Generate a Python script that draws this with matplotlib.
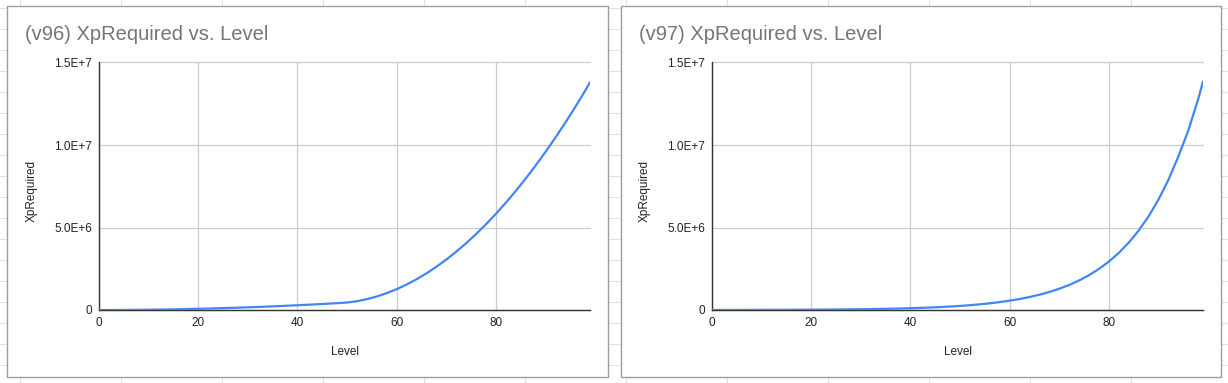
"""
Two Google-Sheets style line charts: XpRequired vs. Level for v96 and v97
"""

import matplotlib
import matplotlib.pyplot as plt
from matplotlib.patches import Rectangle
matplotlib.use("AGG")

plt.rcParams['font.family'] = ['Liberation Sans', 'DejaVu Sans']

# Levels (every 2nd level, plus the last one)
levels = list(range(0, 100, 2)) + [99]

# XP required per level
xp_v96 = [0, 720, 2900, 6500, 11500, 18000, 26000, 35000, 46000, 58000,
          72000, 87000, 104000, 122000, 141000, 162000, 184000, 208000, 233000, 260000,
          288000, 318000, 348000, 381000, 415000, 450000, 534000, 656000, 818000, 1020000,
          1260000, 1540000, 1858000, 2216000, 2614000, 3050000, 3526000, 4040000, 4594000, 5188000,
          5820000, 6492000, 7202000, 7952000, 8742000, 9570000, 10438000, 11344000, 12290000, 13276000,
          13800000]
xp_v97 = [3000, 4000, 5000, 6000, 7500, 9000, 11000, 13000, 15000, 18000,
          21000, 25000, 29000, 34000, 40000, 48000, 56000, 66000, 78000, 92000,
          109000, 128000, 151000, 178000, 210000, 248000, 292000, 344000, 406000, 479000,
          565000, 666000, 785000, 925000, 1091000, 1286000, 1516000, 1788000, 2108000, 2485000,
          2930000, 3455000, 4070000, 4800000, 5660000, 6680000, 7870000, 9280000, 10850000, 12750000,
          13850000]

titles = ['(v96) XpRequired vs. Level', '(v97) XpRequired vs. Level']
x_ticks = [0, 20, 40, 60, 80]
y_ticks = [0, 5e6, 1e7, 1.5e7]
y_tick_labels = ['0', '5.0E+6', '1.0E+7', '1.5E+7']

W, H = 1228, 383
fig = plt.figure(figsize=(W / 100, H / 100), dpi=100)

# Background: spreadsheet cell grid, drawn in pixel coordinates
bg = fig.add_axes([0, 0, 1, 1], zorder=0)
bg.set_xlim(0, W)
bg.set_ylim(H, 0)
bg.axis('off')
for x in range(19, W, 101):
    bg.plot([x + 0.5, x + 0.5], [0, H], color='#e2e2e2', lw=0.8, zorder=1)
for y in range(7, H, 21):
    bg.plot([0, W], [y + 0.5, y + 0.5], color='#e2e2e2', lw=0.8, zorder=1)

# Chart boxes (left px, right px)
boxes = [(6, 607), (620, 1220)]
plot_left = [99, 712]
series = [xp_v96, xp_v97]

for (bx0, bx1), px0, title, xp in zip(boxes, plot_left, titles, series):
    bg.add_patch(Rectangle((bx0 + 0.5, 5.5), bx1 - bx0, 371, facecolor='white',
                           edgecolor='#9e9e9e', lw=1.0, zorder=3))
    bg.text(bx0 + 19, 35, title, fontsize=14.5, color='#757575', va='center',
            ha='left', zorder=4)

    ax = fig.add_axes([px0 / W, (H - 310) / H, 491 / W, 247.5 / H], zorder=2)
    ax.patch.set_alpha(0)
    ax.plot(levels, xp, color='#4285F4', lw=1.6, solid_capstyle='round', zorder=3)
    ax.set_xlim(0, 99)
    ax.set_ylim(0, 1.5e7)
    ax.set_xticks(x_ticks)
    ax.set_yticks(y_ticks)
    ax.set_yticklabels(y_tick_labels)
    ax.tick_params(length=0, labelsize=8.5, labelcolor='#222222', pad=5)
    ax.grid(True, color='#cccccc', lw=0.9)
    for gl in ax.get_ygridlines() + ax.get_xgridlines():
        gl.set_clip_on(False)
    ax.set_axisbelow(True)
    for side in ['top', 'right']:
        ax.spines[side].set_visible(False)
    for side in ['left', 'bottom']:
        ax.spines[side].set_color('#333333')
        ax.spines[side].set_linewidth(1.0)
    ax.set_xlabel('Level', fontsize=8.5, color='#222222')
    ax.xaxis.set_label_coords(0.5, -0.145)
    ax.set_ylabel('XpRequired', fontsize=8.5, color='#222222')
    ax.yaxis.set_label_coords(-0.125, 0.48)

plt.savefig('out.png', dpi=100)
